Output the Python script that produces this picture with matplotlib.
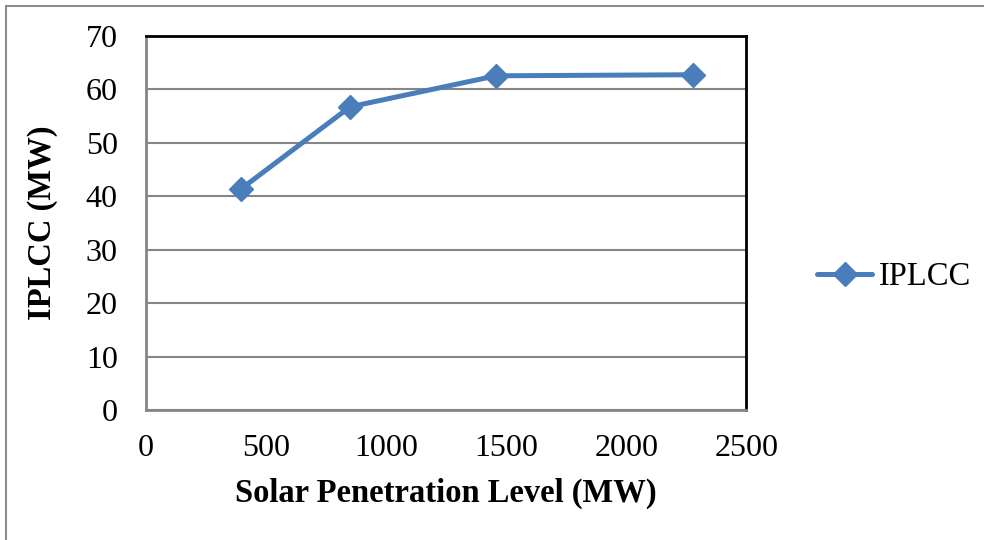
import matplotlib
matplotlib.use("Agg")
import matplotlib.pyplot as plt
from matplotlib.patches import Rectangle

# Data
solar_mw = [396, 851, 1458, 2278]
iplcc_mw = [41.3, 56.7, 62.5, 62.7]
series_name = "IPLCC"
x_label = "Solar Penetration Level (MW)"
y_label = "IPLCC (MW)"
x_ticks = [0, 500, 1000, 1500, 2000, 2500]
y_ticks = [0, 10, 20, 30, 40, 50, 60, 70]

plt.rcParams['font.family'] = ['Liberation Serif', 'DejaVu Serif']

W, H = 984, 540
fig = plt.figure(figsize=(W / 100, H / 100), dpi=100)
ax = fig.add_axes([145.5 / W, 1 - 410 / H, 601 / W, 374.3 / H])

blue = '#4A7EBB'
grid_gray = '#868686'

ax.plot(solar_mw, iplcc_mw, color=blue, lw=3.6, marker='D', markersize=12,
        markeredgecolor=blue, markerfacecolor=blue, solid_capstyle='round',
        solid_joinstyle='round', zorder=3, label=series_name)

ax.set_xlim(0, 2500)
ax.set_ylim(0, 70)
ax.set_xticks(x_ticks)
ax.set_yticks(y_ticks)
ax.set_xticklabels([str(v) for v in x_ticks], fontsize=23)
ax.set_yticklabels([str(v) for v in y_ticks], fontsize=23)
ax.tick_params(axis='both', length=0)
ax.tick_params(axis='y', pad=20)
ax.tick_params(axis='x', pad=17)

ax.yaxis.grid(True, color=grid_gray, lw=1.5)
ax.xaxis.grid(False)
ax.set_axisbelow(True)

for s in ['left', 'bottom']:
    ax.spines[s].set_color(grid_gray)
    ax.spines[s].set_linewidth(2)
for s in ['top', 'right']:
    ax.spines[s].set_color('black')
    ax.spines[s].set_linewidth(2)

ax.set_xlabel(x_label, fontsize=23.5, fontweight='bold', labelpad=11)
ax.set_ylabel(y_label, fontsize=23.5, fontweight='bold', labelpad=20)

leg = ax.legend(loc='center left', bbox_to_anchor=(817 / W, 1 - 277 / H),
                bbox_transform=fig.transFigure, frameon=False, fontsize=23.5,
                handlelength=1.7, handletextpad=0.2, borderaxespad=0, borderpad=0)

# outer chart frame (partially visible)
fig.patches.append(Rectangle((5.5 / W, -0.1), 1.2, 1 - 5.5 / H + 0.1,
                             transform=fig.transFigure, fill=False,
                             edgecolor='#8c8c8c', lw=1.5))

fig.savefig('out.png', dpi=100)
